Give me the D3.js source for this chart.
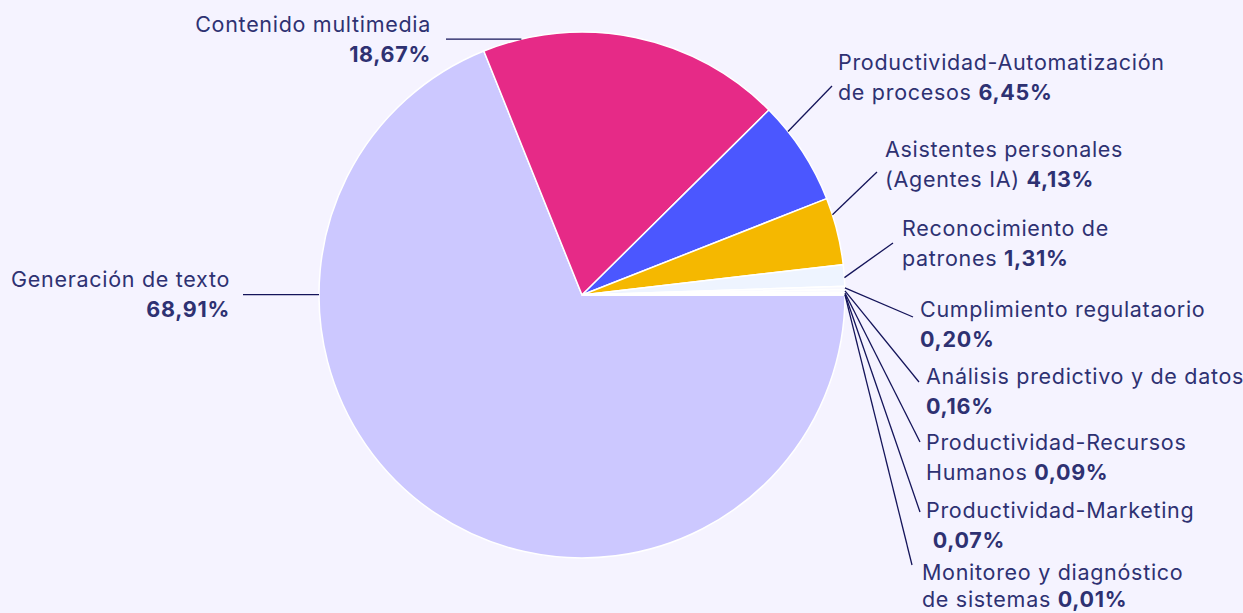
<!DOCTYPE html>
<html><head><meta charset="utf-8">
<script src="https://cdn.jsdelivr.net/npm/d3@7"></script>
<style>
html,body{margin:0;padding:0;background:#f5f3ff;}
svg{display:block;}
text{font-family:Inter,"Open Sans",sans-serif;fill:#2e3172;font-size:21.5px;letter-spacing:0.7px;}
</style></head>
<body>
<svg id="c" width="1243" height="613"></svg>
<script>
const categories = ["Generación de texto","Contenido multimedia","Productividad-Automatización de procesos","Asistentes personales (Agentes IA)","Reconocimiento de patrones","Cumplimiento regulataorio","Análisis predictivo y de datos","Productividad-Recursos Humanos","Productividad-Marketing","Monitoreo y diagnóstico de sistemas"];
const values = [68.91,18.67,6.45,4.13,1.31,0.20,0.16,0.09,0.07,0.01];
const valueLabels = ["68,91%","18,67%","6,45%","4,13%","1,31%","0,20%","0,16%","0,09%","0,07%","0,01%"];
const labelLines = [
  [["Generación de texto",""],["","68,91%"]],
  [["Contenido multimedia",""],["","18,67%"]],
  [["Productividad-Automatización",""],["de procesos ","6,45%"]],
  [["Asistentes personales",""],["(Agentes IA) ","4,13%"]],
  [["Reconocimiento de",""],["patrones ","1,31%"]],
  [["Cumplimiento regulataorio",""],["","0,20%"]],
  [["Análisis predictivo y de datos",""],["","0,16%"]],
  [["Productividad-Recursos",""],["Humanos ","0,09%"]],
  [["Productividad-Marketing",""],["\u00a0","0,07%"]],
  [["Monitoreo y diagnóstico",""],["de sistemas ","0,01%"]]
];
const colors = ["#ccc8ff","#e62a87","#4b57ff","#f5b800","#eef4ff","#f8f9ff","#f8f9ff","#f8f9ff","#f8f9ff","#f8f9ff"];

const W=1243,H=613, cx=582, cy=295, R=263;
const svg=d3.select("#c");
svg.append("rect").attr("width",W).attr("height",H).attr("fill","#f5f3ff");
const g=svg.append("g").attr("transform",`translate(${cx},${cy})`);
const pie=d3.pie().sort(null).startAngle(Math.PI/2).endAngle(Math.PI/2+2*Math.PI);
const arcs=pie(values);
const arc=d3.arc().innerRadius(0).outerRadius(R);
g.selectAll("path").data(arcs).join("path")
  .attr("d",arc).attr("fill",(d,i)=>colors[i])
  .attr("stroke","#ffffff").attr("stroke-width",1.5);

const layout=[
  {t:0.726, tx:230, ty:287, anchor:"end", lx:243},
  {t:0.128, tx:431, ty:32, anchor:"end", lx:446},
  {t:0.27, ex:250, ey:-209, tx:838, ty:70, anchor:"start"},
  {t:0.25, ex:295, ey:-123, tx:885, ty:157, anchor:"start"},
  {t:0.6, ex:311, ey:-52, tx:902, ty:236, anchor:"start"},
  {t:0.5, ex:331, ey:22, tx:920, ty:317, anchor:"start"},
  {t:0.5, ex:337, ey:87, tx:926, ty:384, anchor:"start"},
  {t:0.5, ex:338, ey:147, tx:926, ty:450, anchor:"start"},
  {t:0.5, ex:338, ey:217, tx:926, ty:518, anchor:"start"},
  {t:0.5, ex:330, ey:270, tx:922, ty:580, anchor:"start", gap:27}
];
arcs.forEach((a,i)=>{
  const L=layout[i];
  const ang=a.startAngle+(a.endAngle-a.startAngle)*L.t;
  const sx=R*Math.sin(ang), sy=-R*Math.cos(ang);
  let ex=L.ex, ey=L.ey;
  if(L.anchor==="end"){ ey=sy; ex=L.lx-cx; }
  g.append("line").attr("x1",sx).attr("y1",sy).attr("x2",ex).attr("y2",ey)
    .attr("stroke","#14145a").attr("stroke-width",1.3);
  const lines=labelLines[i];
  const gap=L.gap||30;
  lines.forEach((ln,k)=>{
    const t=svg.append("text").attr("x",L.tx).attr("y",L.ty+k*gap).attr("text-anchor",L.anchor);
    if(ln[0]) t.append("tspan").text(ln[0]);
    if(ln[1]) t.append("tspan").attr("font-weight",700).text(ln[1]);
  });
});
</script>
</body></html>
